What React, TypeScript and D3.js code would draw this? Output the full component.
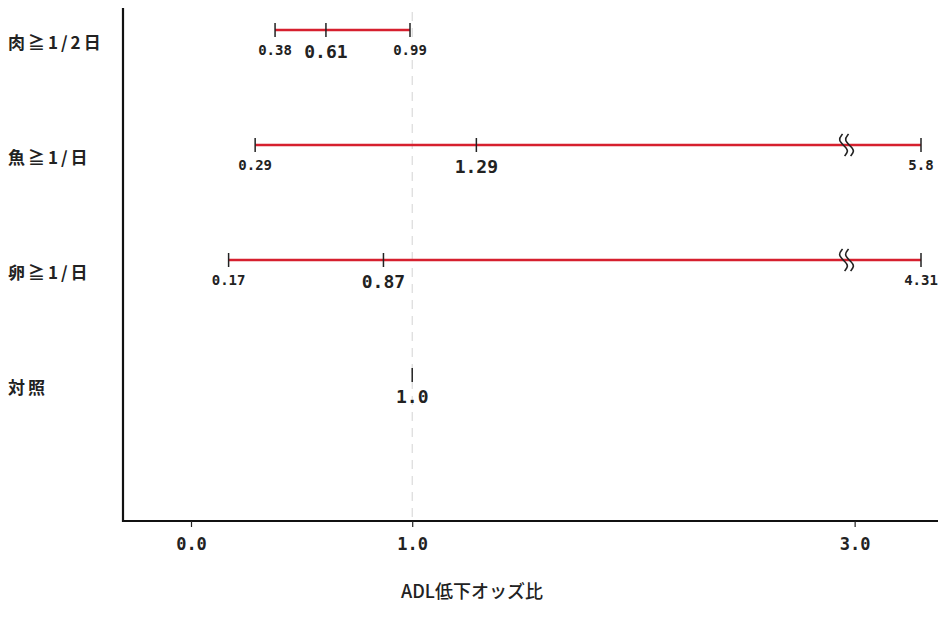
import React, { useEffect, useRef } from "react";
import * as d3 from "d3";

// rows of the forest plot
const categories = ["肉≧1/2日", "魚≧1/日", "卵≧1/日", "対照"];
const lower: (number | null)[] = [0.38, 0.29, 0.17, null];
const point: number[] = [0.61, 1.29, 0.87, 1.0];
const upper: (number | null)[] = [0.99, 5.8, 4.31, null];
const lowerLabels = ["0.38", "0.29", "0.17", ""];
const pointLabels = ["0.61", "1.29", "0.87", "1.0"];
const upperLabels = ["0.99", "5.8", "4.31", ""];
const xTicks = [0, 1, 3];
const xTitle = "ADL低下オッズ比";

const W = 941;
const H = 620;

export default function App() {
  const ref = useRef<SVGSVGElement>(null);

  useEffect(() => {
    const svg = d3.select(ref.current);
    svg.selectAll("*").remove();

    const breakAt = 2.95; // axis is broken after this value
    const shownMax = 3.3; // where values past the break are drawn
    const x = d3.scaleLinear().domain([0, shownMax]).range([191, 921]);
    const y = d3.scalePoint().domain(categories).range([30, 375]);
    const xv = (v: number) => (v > breakAt ? x(shownMax) : x(v));

    const axisY = 521;
    const mono = "'DejaVu Sans Mono', monospace";
    const cjk = "'Noto Sans CJK JP', sans-serif";

    // faint reference line at OR = 1
    svg.append("line")
      .attr("x1", x(1)).attr("x2", x(1))
      .attr("y1", 12).attr("y2", axisY)
      .attr("stroke", "#d4d4d4")
      .attr("stroke-width", 1)
      .attr("stroke-dasharray", "9,7");

    // axes lines
    svg.append("line")
      .attr("x1", 123).attr("x2", 123).attr("y1", 8).attr("y2", axisY + 1)
      .attr("stroke", "#111").attr("stroke-width", 2.2);
    svg.append("line")
      .attr("x1", 122).attr("x2", 938).attr("y1", axisY).attr("y2", axisY)
      .attr("stroke", "#111").attr("stroke-width", 2.2);

    const gx = svg.append("g").attr("transform", `translate(0,${axisY})`)
      .call(d3.axisBottom(x).tickValues(xTicks).tickFormat(d3.format(".1f")).tickSize(6).tickPadding(11));
    gx.select(".domain").remove();
    gx.selectAll("line").attr("stroke", "#222").attr("stroke-width", 1.2);
    gx.selectAll("text")
      .attr("font-family", mono).attr("font-size", 17).attr("font-weight", "bold").attr("fill", "#222");

    // category labels
    svg.append("g").selectAll("text").data(categories).enter().append("text")
      .attr("x", 8)
      .attr("y", (d) => (y(d) as number) + 11)
      .attr("dominant-baseline", "central")
      .attr("font-family", cjk).attr("font-size", 17).attr("font-weight", "bold")
      .attr("letter-spacing", 3)
      .attr("fill", "#222")
      .text((d) => d);

    const rows = categories.map((c, i) => ({
      c, lo: lower[i], pt: point[i], hi: upper[i],
      loL: lowerLabels[i], ptL: pointLabels[i], hiL: upperLabels[i],
    }));

    const g = svg.append("g");
    rows.forEach((r) => {
      const cy = y(r.c) as number;
      if (r.lo != null && r.hi != null) {
        g.append("line")
          .attr("x1", xv(r.lo)).attr("x2", xv(r.hi)).attr("y1", cy).attr("y2", cy)
          .attr("stroke", "#d6202e").attr("stroke-width", 2.6);
        [r.lo, r.hi].forEach((v) => {
          g.append("line")
            .attr("x1", xv(v)).attr("x2", xv(v)).attr("y1", cy - 7).attr("y2", cy + 7)
            .attr("stroke", "#222").attr("stroke-width", 1.5);
        });
        if (r.hi > breakAt) {
          const bx = x(breakAt);
          const wave = d3.line().curve(d3.curveBasis);
          const shape: [number, number][] = [[-1, -11], [-6, -5], [2, 2], [5, 6], [1, 11]];
          [0, 6].forEach((off) => {
            g.append("path")
              .attr("d", wave(shape.map(([a, b]) => [bx + a + off, cy + b])))
              .attr("fill", "none").attr("stroke", "#222").attr("stroke-width", 1.6);
          });
        }
        g.append("text")
          .attr("x", xv(r.lo)).attr("y", cy + 25).attr("text-anchor", "middle")
          .attr("font-family", mono).attr("font-size", 14).attr("font-weight", "bold").attr("fill", "#222")
          .text(r.loL);
        g.append("text")
          .attr("x", xv(r.hi)).attr("y", cy + 25).attr("text-anchor", "middle")
          .attr("font-family", mono).attr("font-size", 14).attr("font-weight", "bold").attr("fill", "#222")
          .text(r.hiL);
      }
      g.append("line")
        .attr("x1", xv(r.pt)).attr("x2", xv(r.pt)).attr("y1", cy - 7).attr("y2", cy + 7)
        .attr("stroke", "#222").attr("stroke-width", 1.5);
      g.append("text")
        .attr("x", xv(r.pt)).attr("y", cy + 28).attr("text-anchor", "middle")
        .attr("font-family", mono).attr("font-size", 18).attr("font-weight", "bold").attr("fill", "#222")
        .text(r.ptL);
    });

    // x title
    svg.append("text")
      .attr("x", 472).attr("y", 598).attr("text-anchor", "middle")
      .attr("font-family", cjk).attr("font-size", 18).attr("font-weight", 500).attr("fill", "#222")
      .text(xTitle);
  }, []);

  return (
    <div>
      <svg ref={ref} width={W} height={H}
        style={{ position: "absolute", left: 0, top: 0, background: "#fff" }} />
    </div>
  );
}
